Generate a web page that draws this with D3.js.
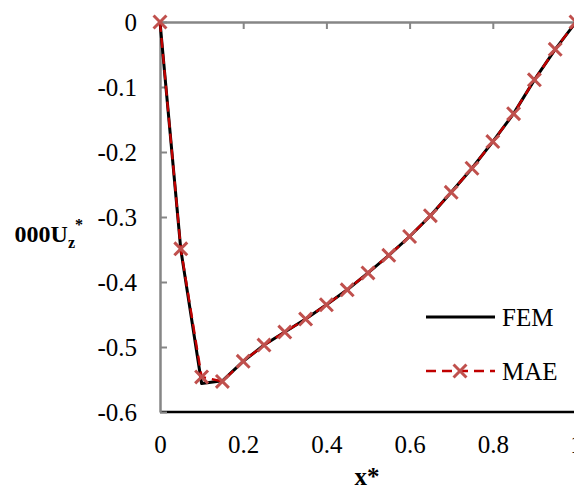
<!DOCTYPE html>
<html>
<head>
<meta charset="utf-8">
<script src="https://cdn.jsdelivr.net/npm/d3@7"></script>
<style>
  body { margin: 0; background: #fff; }
  text { font-family: "Liberation Serif", "Times New Roman", serif; }
</style>
</head>
<body>
<div id="chart"></div>
<script>
// x* positions shared by both series
const xs = [0, 0.05, 0.1, 0.15, 0.2, 0.25, 0.3, 0.35, 0.4, 0.45, 0.5,
            0.55, 0.6, 0.65, 0.7, 0.75, 0.8, 0.85, 0.9, 0.95, 1];
const femVals = [0, -0.350, -0.556, -0.552, -0.522, -0.497, -0.477, -0.457, -0.435, -0.412, -0.386,
                 -0.359, -0.330, -0.298, -0.262, -0.225, -0.184, -0.141, -0.089, -0.042, 0];
const maeVals = [0, -0.349, -0.546, -0.553, -0.522, -0.497, -0.477, -0.457, -0.435, -0.412, -0.386,
                 -0.359, -0.330, -0.298, -0.262, -0.225, -0.184, -0.141, -0.089, -0.042, 0];
const xTicks = [0, 0.2, 0.4, 0.6, 0.8, 1];
const yTicks = [0, -0.1, -0.2, -0.3, -0.4, -0.5, -0.6];

const width = 574, height = 487;
const serif = '"Liberation Serif", "Times New Roman", serif';
const svg = d3.select("#chart").append("svg")
    .attr("width", width)
    .attr("height", height);

const x = d3.scaleLinear().domain([0, 1]).range([160, 576]);
const y = d3.scaleLinear().domain([-0.6, 0]).range([412, 22]);

const fem = xs.map((d, i) => ({x: d, y: femVals[i]}));
const mae = xs.map((d, i) => ({x: d, y: maeVals[i]}));

// bottom border of the plot area
svg.append("line")
    .attr("x1", x(0)).attr("x2", x(1))
    .attr("y1", y(-0.6)).attr("y2", y(-0.6))
    .style("stroke", "#000").style("stroke-width", 2.5);

// horizontal axis sits at y = 0 (top), ticks pointing down, no labels
const topAxis = svg.append("g")
    .attr("transform", `translate(0,${y(0)})`)
    .call(d3.axisBottom(x).tickValues(xTicks.slice(1, -1)).tickSizeInner(7).tickSizeOuter(0).tickFormat(""));
topAxis.select(".domain").style("stroke", "#868686").style("stroke-width", 2.5);
topAxis.selectAll(".tick line").style("stroke", "#868686").style("stroke-width", 2);

// tick labels of x at the bottom
const xLab = svg.append("g")
    .attr("transform", `translate(0,${y(-0.6)})`)
    .call(d3.axisBottom(x).tickValues(xTicks).tickSize(0).tickPadding(0).tickFormat(d3.format("")));
xLab.attr("font-family", serif).attr("font-size", 25);
xLab.select(".domain").remove();
xLab.selectAll("text")
    .attr("y", 41).attr("dy", 0)
    .style("font-family", serif).style("font-size", "25px").style("fill", "#000");

// vertical axis
const yAxis = svg.append("g")
    .attr("transform", `translate(${x(0)},0)`)
    .call(d3.axisLeft(y).tickValues(yTicks).tickSizeInner(-7).tickSizeOuter(0).tickPadding(23)
        .tickFormat(d => d === 0 ? "0" : d3.format(".1f")(d).replace("−", "-")));
yAxis.attr("font-family", serif).attr("font-size", 25);
yAxis.select(".domain").style("stroke", "#868686").style("stroke-width", 2.5);
yAxis.selectAll(".tick line").style("stroke", "#868686").style("stroke-width", 2);
yAxis.selectAll("text")
    .attr("dy", "0.34em")
    .style("font-family", serif).style("font-size", "25px").style("fill", "#000");

const line = d3.line().x(d => x(d.x)).y(d => y(d.y));

svg.append("path").datum(fem)
    .attr("d", line)
    .style("fill", "none").style("stroke", "#000").style("stroke-width", 3)
    .style("stroke-linejoin", "round");

svg.append("path").datum(mae)
    .attr("d", line)
    .style("fill", "none").style("stroke", "#c00000").style("stroke-width", 2.4)
    .style("stroke-dasharray", "10,6");

const cross = d3.symbol().type(d3.symbolX).size(110);
svg.selectAll(".mk").data(mae).enter().append("path")
    .attr("class", "mk")
    .attr("transform", d => `translate(${x(d.x)},${y(d.y)})`)
    .attr("d", cross)
    .style("fill", "none").style("stroke", "#c0504d").style("stroke-width", 3);

// axis titles
svg.append("text")
    .attr("x", 367).attr("y", 485)
    .attr("text-anchor", "middle")
    .style("font-family", serif)
    .style("font-size", "25px").style("font-weight", "bold")
    .text("x*");

const clip = svg.append("clipPath").attr("id", "ylabClip")
    .append("rect").attr("y", 190).attr("width", 120).attr("height", 80);
const yTitle = svg.append("text")
    .attr("clip-path", "url(#ylabClip)")
    .attr("x", 83).attr("y", 242)
    .attr("text-anchor", "end")
    .style("font-family", serif)
    .style("font-size", "24px").style("font-weight", "bold");
yTitle.append("tspan").text("1000U");
yTitle.append("tspan").attr("dy", 6).style("font-size", "16px").text("z");
yTitle.append("tspan").attr("dy", -18).style("font-size", "16px").text("*");
// the reference cuts the title just before its second character
clip.attr("x", yTitle.node().getStartPositionOfChar(1).x - 0.5);

// legend
const legend = svg.append("g");
legend.append("line")
    .attr("x1", 426).attr("x2", 495).attr("y1", 317).attr("y2", 317)
    .style("stroke", "#000").style("stroke-width", 3);
legend.append("text").attr("x", 502).attr("y", 326)
    .style("font-family", serif)
    .style("font-size", "25px").text("FEM");
legend.append("line")
    .attr("x1", 426).attr("x2", 495).attr("y1", 371).attr("y2", 371)
    .style("stroke", "#c00000").style("stroke-width", 2.4).style("stroke-dasharray", "10,6");
legend.append("path")
    .attr("transform", "translate(460,371)")
    .attr("d", cross)
    .style("fill", "none").style("stroke", "#c0504d").style("stroke-width", 3);
legend.append("text").attr("x", 502).attr("y", 380)
    .style("font-family", serif)
    .style("font-size", "25px").text("MAE");
</script>
</body>
</html>
